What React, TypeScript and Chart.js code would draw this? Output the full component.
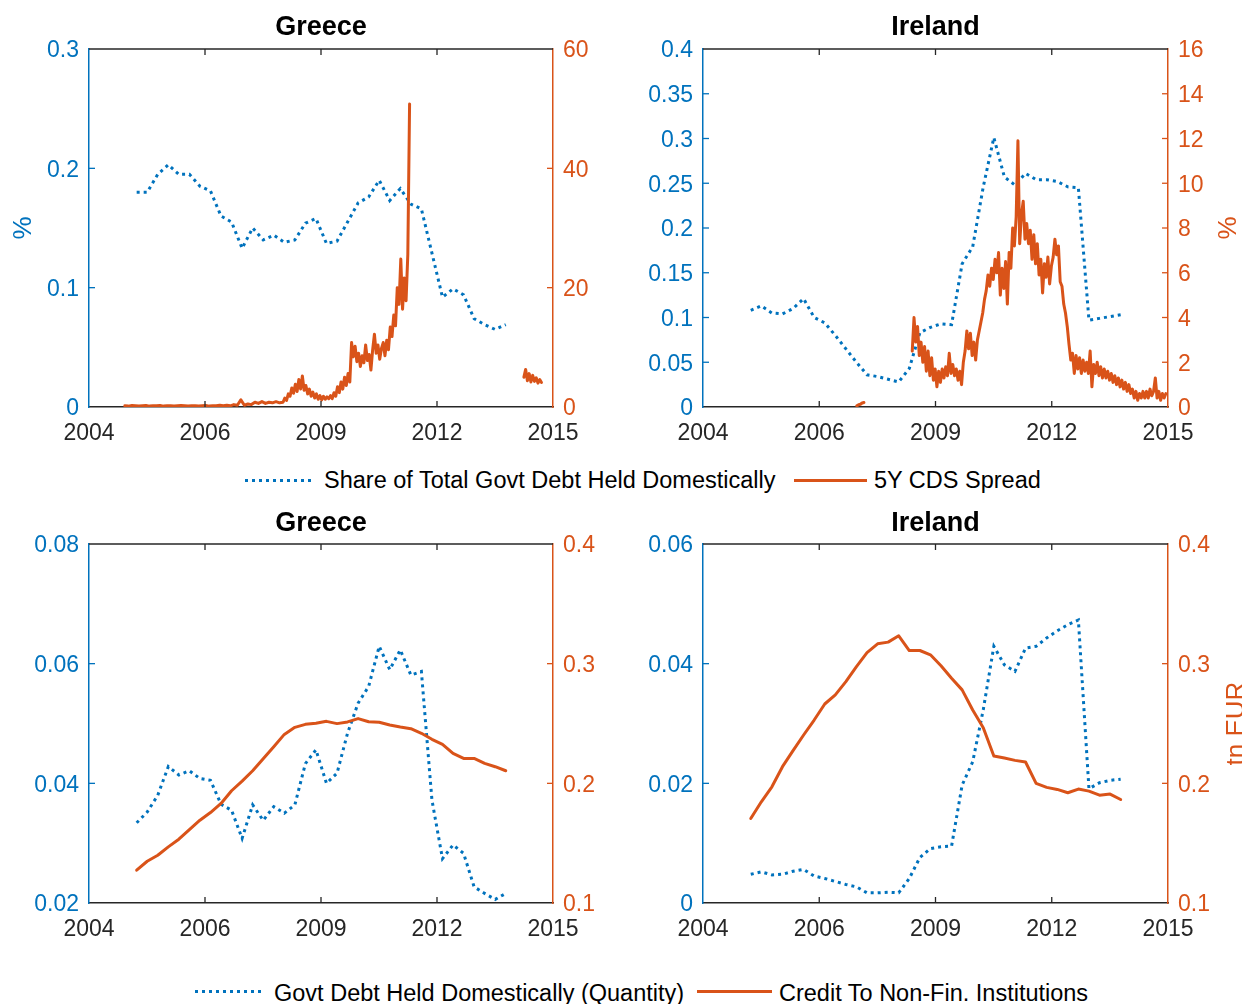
import React, { useEffect, useRef } from 'react';
import { Chart, registerables } from 'chart.js';

Chart.register(...registerables);

const BLUE = '#0072BD';
const ORANGE = '#D95319';
const GRAY = '#262626';
const FONT = '"Liberation Sans", Arial, Helvetica, sans-serif';

// ---------- axis ticks ----------
const xTickValues = [2004, 2006.75, 2009.5, 2012.25, 2015];
const xTickLabels = ['2004', '2006', '2009', '2012', '2015'];

const yTicksShareGR = [0, 0.1, 0.2, 0.3];
const yTicksCdsGR = [0, 20, 40, 60];
const yTicksShareIE = [0, 0.05, 0.1, 0.15, 0.2, 0.25, 0.3, 0.35, 0.4];
const yTicksCdsIE = [0, 2, 4, 6, 8, 10, 12, 14, 16];
const yTicksQtyGR = [0.02, 0.04, 0.06, 0.08];
const yTicksQtyIE = [0, 0.02, 0.04, 0.06];
const yTicksCredit = [0.1, 0.2, 0.3, 0.4];

// ---------- titles / labels ----------
const panelTitles = ['Greece', 'Ireland', 'Greece', 'Ireland'];
const legendTop = ['Share of Total Govt Debt Held Domestically', '5Y CDS Spread'];
const legendBottom = ['Govt Debt Held Domestically (Quantity)', 'Credit To Non-Fin. Institutions'];

// ---------- quarterly series (2005Q1 .. 2013Q4) ----------
const quarterStart = 2005.13;
const quarterStep = 0.25;

const shareDomGR = [0.180, 0.180, 0.195, 0.203, 0.195, 0.195, 0.185, 0.181, 0.160, 0.155, 0.133, 0.150,
  0.140, 0.144, 0.138, 0.140, 0.154, 0.158, 0.137, 0.139, 0.155, 0.171, 0.176, 0.190,
  0.173, 0.183, 0.170, 0.166, 0.129, 0.092, 0.099, 0.094, 0.074, 0.069, 0.065, 0.069];

const shareDomIE = [0.108, 0.113, 0.105, 0.104, 0.110, 0.121, 0.100, 0.094, 0.080, 0.065, 0.050, 0.036,
  0.034, 0.031, 0.028, 0.043, 0.083, 0.089, 0.093, 0.092, 0.160, 0.179, 0.246, 0.301,
  0.257, 0.248, 0.261, 0.254, 0.254, 0.252, 0.246, 0.245, 0.097, 0.099, 0.101, 0.103];

const qtyDomGR = [0.0334, 0.0352, 0.0380, 0.0428, 0.0414, 0.0421, 0.0408, 0.0405, 0.0365, 0.0355, 0.0308, 0.0364,
  0.0338, 0.0361, 0.0350, 0.0364, 0.0433, 0.0456, 0.0400, 0.0417, 0.0484, 0.0534, 0.0562, 0.0629,
  0.0590, 0.0623, 0.0581, 0.0587, 0.0372, 0.0274, 0.0297, 0.0283, 0.0227, 0.0216, 0.0206, 0.0216];

const qtyDomIE = [0.0048, 0.0052, 0.0047, 0.0048, 0.0053, 0.0056, 0.0045, 0.0041, 0.0036, 0.0031, 0.0027, 0.0017,
  0.0017, 0.0018, 0.0017, 0.0041, 0.0076, 0.0091, 0.0094, 0.0095, 0.0197, 0.0236, 0.0323, 0.0429,
  0.0398, 0.0387, 0.0426, 0.0429, 0.0443, 0.0455, 0.0465, 0.0473, 0.0191, 0.0201, 0.0205, 0.0207];

const creditGR = [0.1274, 0.1349, 0.1399, 0.1469, 0.1533, 0.1614, 0.1692, 0.1756, 0.1832, 0.1938, 0.2019, 0.2105,
  0.2206, 0.2306, 0.2409, 0.2468, 0.2493, 0.2502, 0.2518, 0.2499, 0.2513, 0.2541, 0.2515, 0.2510,
  0.2488, 0.2471, 0.2457, 0.2418, 0.2368, 0.2326, 0.2250, 0.2208, 0.2208, 0.2167, 0.2139, 0.2105];

const creditIE = [0.1706, 0.1846, 0.1971, 0.2139, 0.2273, 0.2404, 0.2529, 0.2663, 0.2739, 0.2850, 0.2976, 0.3093,
  0.3166, 0.3180, 0.3233, 0.3110, 0.3110, 0.3074, 0.2982, 0.2878, 0.2781, 0.2613, 0.2465, 0.2228,
  0.2211, 0.2192, 0.2178, 0.1999, 0.1966, 0.1949, 0.1921, 0.1952, 0.1935, 0.1901, 0.1910, 0.1865];

// ---------- 5Y CDS spreads (%) ----------
const cdsGR1Start = 2004.85;
const cdsGR1Step = 1 / 12;
const cdsGR1 = [0.2, 0.15, 0.25, 0.2, 0.15, 0.2, 0.25, 0.15, 0.2, 0.2, 0.25, 0.15, 0.2, 0.2, 0.15, 0.2,
  0.25, 0.2, 0.15, 0.2, 0.2, 0.15, 0.2, 0.25, 0.15, 0.2,
  0.2, 0.3, 0.2, 0.3, 0.2, 0.4, 0.3, 1.2, 0.3, 0.5, 0.4, 0.8, 0.6, 0.9, 0.6, 0.8, 0.7, 0.9, 0.7, 0.8];

const cdsGR2Start = 2008.6;
const cdsGR2Step = 1 / 24;
const cdsGR2 = [0.8, 1.5, 1.1, 2.2, 1.8, 3.2, 2.3, 3.8, 2.6, 4.6, 3.0, 5.2, 2.8, 3.6, 2.2, 3.0,
  1.8, 2.5, 1.5, 2.2, 1.3, 1.9, 1.2, 1.8, 1.3, 1.7, 1.4, 1.9, 1.4, 2.4, 1.8, 3.4,
  2.4, 4.2, 3.0, 5.0, 3.6, 5.6, 4.2, 10.8, 8.4, 10.2, 7.6, 9.0, 6.8, 8.6, 7.4, 10.4,
  7.8, 8.8, 6.2, 9.6, 12.2, 9.0, 10.4, 8.0, 9.8, 10.8, 8.6, 11.2, 9.6, 13.4, 11.8, 15.4,
  13.6, 20.0, 17.2, 24.8, 16.4, 21.6, 17.8, 25.6, 50.8];

const cdsGR3Start = 2014.31;
const cdsGR3Step = 1 / 24;
const cdsGR3 = [5.0, 6.3, 4.4, 5.6, 4.2, 5.3, 4.3, 4.9, 4.0, 4.6, 4.1];

const cdsIE1Start = 2007.64;
const cdsIE1Step = 1 / 24;
const cdsIE1 = [0.05, 0.1, 0.12, 0.18, 0.2];

const cdsIE2Start = 2008.95;
const cdsIE2Step = 1 / 24;
const cdsIE2 = [2.5, 4.0, 2.9, 3.6, 2.3, 2.9, 2.0, 2.7, 1.6, 2.5, 1.4, 2.2, 1.2, 1.7, 0.9, 1.6,
  1.1, 1.7, 1.3, 1.8, 1.4, 2.4, 1.5, 1.9, 1.4, 1.7, 1.2, 1.6, 1.0, 2.0, 2.5, 3.4,
  2.6, 3.3, 2.3, 2.9, 2.1, 3.0, 3.4, 3.8, 4.2, 4.8, 5.2, 5.9, 5.4, 6.2, 5.7, 6.6,
  6.0, 6.9, 5.0, 6.2, 5.3, 6.5, 4.6, 6.9, 6.2, 8.0, 7.2, 8.5, 11.9, 7.3, 8.6, 9.2,
  7.5, 8.2, 7.3, 7.9, 6.6, 7.7, 6.4, 7.3, 5.9, 6.6, 5.1, 6.4, 5.8, 6.7, 5.5, 6.3,
  6.7, 7.5, 6.8, 7.2, 5.6, 5.4, 4.6, 4.2, 3.6, 2.8, 2.1, 2.4, 1.5, 2.3, 1.7, 2.2,
  1.5, 2.1, 1.6, 2.0, 1.5, 2.5, 0.9, 1.9, 1.5, 2.0, 1.4, 1.8, 1.3, 1.7, 1.3, 1.6,
  1.2, 1.5, 1.1, 1.4, 1.0, 1.3, 0.9, 1.2, 0.8, 1.1, 0.7, 1.0, 0.6, 0.8, 0.4, 0.7,
  0.3, 0.6, 0.4, 0.7, 0.4, 0.7, 0.4, 0.8, 0.5, 0.7, 1.3, 0.4, 0.7, 0.3, 0.6, 0.4, 0.6];

function pts(start: number, step: number, values: number[]) {
  return values.map((v, i) => ({ x: start + i * step, y: v }));
}

type Axis = { min: number; max: number; ticks: number[] };
type PanelCfg = {
  title: string;
  titleY: number;
  padTop: number;
  leftW: number;
  rightW: number;
  bottomH: number;
  left: Axis;
  right: Axis;
  leftTitle?: string;
  leftTitleX?: number;
  rightTitle?: string;
  rightTitleX?: number;
  blue: { x: number; y: number }[];
  orange: { x: number; y: number }[][];
  orangeWidth: number;
};

function makeDeco(p: PanelCfg) {
  return {
    id: 'deco',
    afterDraw(chart: any) {
      const { ctx, chartArea: ca, scales } = chart;
      const L = 6;
      ctx.save();
      ctx.lineWidth = 1.3;
      ctx.strokeStyle = GRAY;
      ctx.beginPath();
      ctx.moveTo(ca.left, ca.top);
      ctx.lineTo(ca.right, ca.top);
      ctx.stroke();
      for (const t of scales.x.ticks) {
        const px = scales.x.getPixelForValue(t.value);
        if (px <= ca.left + 1 || px >= ca.right - 1) continue;
        ctx.beginPath();
        ctx.moveTo(px, ca.bottom);
        ctx.lineTo(px, ca.bottom - L);
        ctx.moveTo(px, ca.top);
        ctx.lineTo(px, ca.top + L);
        ctx.stroke();
      }
      ctx.strokeStyle = BLUE;
      for (const t of scales.y.ticks) {
        const py = scales.y.getPixelForValue(t.value);
        if (py <= ca.top + 1 || py >= ca.bottom - 1) continue;
        ctx.beginPath();
        ctx.moveTo(ca.left, py);
        ctx.lineTo(ca.left + L, py);
        ctx.stroke();
      }
      ctx.strokeStyle = ORANGE;
      for (const t of scales.y1.ticks) {
        const py = scales.y1.getPixelForValue(t.value);
        if (py <= ca.top + 1 || py >= ca.bottom - 1) continue;
        ctx.beginPath();
        ctx.moveTo(ca.right, py);
        ctx.lineTo(ca.right - L, py);
        ctx.stroke();
      }
      ctx.fillStyle = '#000';
      ctx.font = `bold 27px ${FONT}`;
      ctx.textAlign = 'center';
      ctx.textBaseline = 'middle';
      ctx.fillText(p.title, (ca.left + ca.right) / 2, p.titleY);
      const midY = (ca.top + ca.bottom) / 2;
      ctx.font = `26px ${FONT}`;
      if (p.leftTitle) {
        ctx.save();
        ctx.translate(p.leftTitleX as number, midY);
        ctx.rotate(-Math.PI / 2);
        ctx.fillStyle = BLUE;
        ctx.fillText(p.leftTitle, 0, 0);
        ctx.restore();
      }
      if (p.rightTitle) {
        ctx.save();
        ctx.translate(p.rightTitleX as number, midY);
        ctx.rotate(-Math.PI / 2);
        ctx.fillStyle = ORANGE;
        ctx.fillText(p.rightTitle, 0, 0);
        ctx.restore();
      }
      ctx.restore();
    },
  };
}

function buildConfig(p: PanelCfg): any {
  const datasets: any[] = [];
  p.orange.forEach((seg) =>
    datasets.push({
      data: seg,
      yAxisID: 'y1',
      borderColor: ORANGE,
      borderWidth: p.orangeWidth,
      pointRadius: 0,
      borderJoinStyle: 'round',
      borderCapStyle: 'round',
      fill: false,
      tension: 0,
      order: 0,
    })
  );
  datasets.push({
    data: p.blue,
    yAxisID: 'y',
    borderColor: BLUE,
    borderWidth: 3,
    borderDash: [3, 4],
    borderCapStyle: 'butt',
    pointRadius: 0,
    fill: false,
    tension: 0,
    order: 1,
  });
  const tickFont = { family: FONT, size: 23 };
  const yAxis = (a: Axis, pos: string, color: string, w: number) => ({
    type: 'linear',
    position: pos,
    min: a.min,
    max: a.max,
    grid: { display: false, drawTicks: false },
    border: { display: true, color, width: 1.5 },
    afterBuildTicks: (s: any) => {
      s.ticks = a.ticks.map((v) => ({ value: v }));
    },
    afterFit: (s: any) => {
      s.width = w;
    },
    ticks: { color, font: tickFont, padding: 10, labelOffset: 2, autoSkip: false, callback: (v: number) => String(v) },
  });
  return {
    type: 'line',
    data: { datasets },
    options: {
      animation: false,
      responsive: false,
      devicePixelRatio: 1,
      events: [],
      layout: { padding: { top: p.padTop, left: 0, right: 0, bottom: 0 } },
      plugins: { legend: { display: false }, tooltip: { enabled: false }, title: { display: false } },
      scales: {
        x: {
          type: 'linear',
          position: 'bottom',
          min: 2004,
          max: 2015,
          grid: { display: false, drawTicks: false },
          border: { display: true, color: GRAY, width: 1.5 },
          afterBuildTicks: (s: any) => {
            s.ticks = xTickValues.map((v) => ({ value: v }));
          },
          afterFit: (s: any) => {
            s.height = p.bottomH;
          },
          ticks: {
            autoSkip: false,
            maxRotation: 0,
            minRotation: 0,
            padding: 12.5,
            color: GRAY,
            font: tickFont,
            callback: (_v: number, i: number) => xTickLabels[i],
          },
        },
        y: yAxis(p.left, 'left', BLUE, p.leftW),
        y1: yAxis(p.right, 'right', ORANGE, p.rightW),
      },
    },
    plugins: [makeDeco(p)],
  };
}

function Panel({ cfg, left, top, width, height }: { cfg: PanelCfg; left: number; top: number; width: number; height: number }) {
  const ref = useRef<HTMLCanvasElement>(null);
  useEffect(() => {
    const chart = new Chart(ref.current as HTMLCanvasElement, buildConfig(cfg));
    return () => chart.destroy();
  }, []);
  return (
    <canvas
      ref={ref}
      width={width}
      height={height}
      style={{ position: 'absolute', left, top, width, height, display: 'block' }}
    />
  );
}

const qPts = (vals: number[]) => pts(quarterStart, quarterStep, vals);

const panelTL: PanelCfg = {
  title: panelTitles[0], titleY: 28, padTop: 49, leftW: 89, rightW: 67, bottomH: 53,
  left: { min: 0, max: 0.3, ticks: yTicksShareGR },
  right: { min: 0, max: 60, ticks: yTicksCdsGR },
  leftTitle: '%', leftTitleX: 24,
  blue: qPts(shareDomGR),
  orange: [
    [...pts(cdsGR1Start, cdsGR1Step, cdsGR1), ...pts(cdsGR2Start, cdsGR2Step, cdsGR2)],
    pts(cdsGR3Start, cdsGR3Step, cdsGR3),
  ],
  orangeWidth: 3,
};

const panelTR: PanelCfg = {
  title: panelTitles[1], titleY: 28, padTop: 49, leftW: 83, rightW: 74, bottomH: 53,
  left: { min: 0, max: 0.4, ticks: yTicksShareIE },
  right: { min: 0, max: 16, ticks: yTicksCdsIE },
  rightTitle: '%', rightTitleX: 609,
  blue: qPts(shareDomIE),
  orange: [pts(cdsIE1Start, cdsIE1Step, cdsIE1), pts(cdsIE2Start, cdsIE2Step, cdsIE2)],
  orangeWidth: 3,
};

const panelBL: PanelCfg = {
  title: panelTitles[2], titleY: 29, padTop: 49, leftW: 89, rightW: 67, bottomH: 52,
  left: { min: 0.02, max: 0.08, ticks: yTicksQtyGR },
  right: { min: 0.1, max: 0.4, ticks: yTicksCredit },
  blue: qPts(qtyDomGR),
  orange: [qPts(creditGR)],
  orangeWidth: 3,
};

const panelBR: PanelCfg = {
  title: panelTitles[3], titleY: 29, padTop: 49, leftW: 83, rightW: 74, bottomH: 52,
  left: { min: 0, max: 0.06, ticks: yTicksQtyIE },
  right: { min: 0.1, max: 0.4, ticks: yTicksCredit },
  rightTitle: 'tn EUR', rightTitleX: 617,
  blue: qPts(qtyDomIE),
  orange: [qPts(creditIE)],
  orangeWidth: 3,
};

const legendTextStyle: React.CSSProperties = {
  position: 'absolute',
  fontFamily: FONT,
  fontSize: '23.5px',
  lineHeight: '26px',
  color: '#000',
  whiteSpace: 'nowrap',
};

function DotSample({ left, top, width }: { left: number; top: number; width: number }) {
  return (
    <div
      style={{
        position: 'absolute',
        left,
        top,
        width,
        height: 3,
        background: `repeating-linear-gradient(to right, ${BLUE} 0px, ${BLUE} 3px, transparent 3px, transparent 7px)`,
      }}
    />
  );
}

function SolidSample({ left, top, width }: { left: number; top: number; width: number }) {
  return <div style={{ position: 'absolute', left, top, width, height: 3, background: ORANGE }} />;
}

export default function App() {
  return (
    <div
      style={{
        position: 'absolute',
        left: 0,
        top: 0,
        width: 1242,
        height: 1004,
        overflow: 'hidden',
        background: '#fff',
      }}
    >
      <Panel cfg={panelTL} left={0} top={0} width={620} height={460} />
      <Panel cfg={panelTR} left={620} top={0} width={622} height={460} />
      <Panel cfg={panelBL} left={0} top={495} width={620} height={460} />
      <Panel cfg={panelBR} left={620} top={495} width={622} height={460} />

      <DotSample left={245} top={479} width={68} />
      <div style={{ ...legendTextStyle, left: 324, top: 467 }}>{legendTop[0]}</div>
      <SolidSample left={794} top={479} width={73} />
      <div style={{ ...legendTextStyle, left: 874, top: 467 }}>{legendTop[1]}</div>

      <DotSample left={195} top={990} width={68} />
      <div style={{ ...legendTextStyle, left: 274, top: 980 }}>{legendBottom[0]}</div>
      <SolidSample left={697} top={990} width={75} />
      <div style={{ ...legendTextStyle, left: 779, top: 980 }}>{legendBottom[1]}</div>
    </div>
  );
}
